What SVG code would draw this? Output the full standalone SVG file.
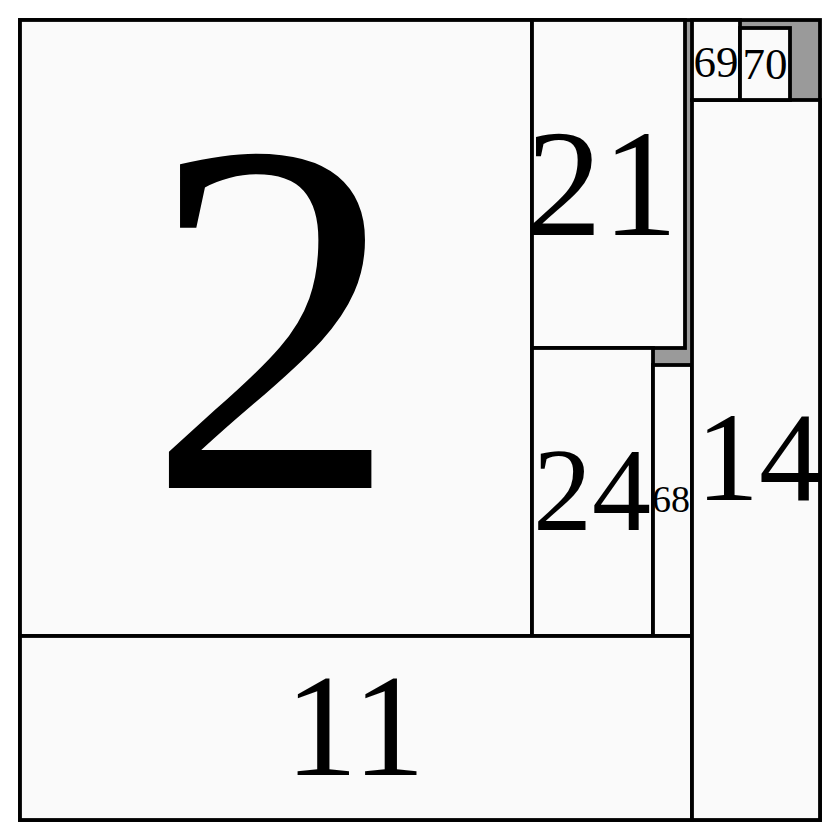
<svg xmlns="http://www.w3.org/2000/svg" width="840" height="840" viewBox="0 0 840 840">
<style>
.bg{fill:#ffffff}
.root{fill:#9a9a9a;stroke:#000;stroke-width:3.8}
.leaf{fill:#fafafa;stroke:#000;stroke-width:3.8}
.lbl{font-family:"Liberation Serif","Times New Roman",serif;fill:#000;text-anchor:middle}
</style>
<rect class="bg" x="0" y="0" width="840" height="840"/>
<g id="root"><rect class="root" x="20" y="20" width="800" height="800"/></g>
<g id="n2"><rect class="leaf" x="20" y="20" width="512" height="616"/><text class="lbl" x="273" y="488" font-size="505">2</text></g>
<g id="n21"><rect class="leaf" x="532" y="20" width="153" height="328"/><text class="lbl" x="602" y="235" font-size="152">21</text></g>
<g id="n24"><rect class="leaf" x="532" y="348" width="121" height="288"/><text class="lbl" x="592" y="530" font-size="118">24</text></g>
<g id="n68"><rect class="leaf" x="653" y="365" width="39" height="271"/><text class="lbl" x="671" y="512" font-size="38">68</text></g>
<g id="n11"><rect class="leaf" x="20" y="636" width="672" height="184"/><text class="lbl" x="355" y="775" font-size="146">11</text></g>
<g id="n14"><rect class="leaf" x="692" y="100" width="128" height="720"/><text class="lbl" x="759" y="500" font-size="126">14</text></g>
<g id="n69"><rect class="leaf" x="692" y="20" width="48" height="80"/><text class="lbl" x="716" y="77" font-size="45">69</text></g>
<g id="n70"><rect class="leaf" x="740" y="28" width="50" height="72"/><text class="lbl" x="765" y="79" font-size="45">70</text></g>
<g id="connectors"></g>
</svg>
